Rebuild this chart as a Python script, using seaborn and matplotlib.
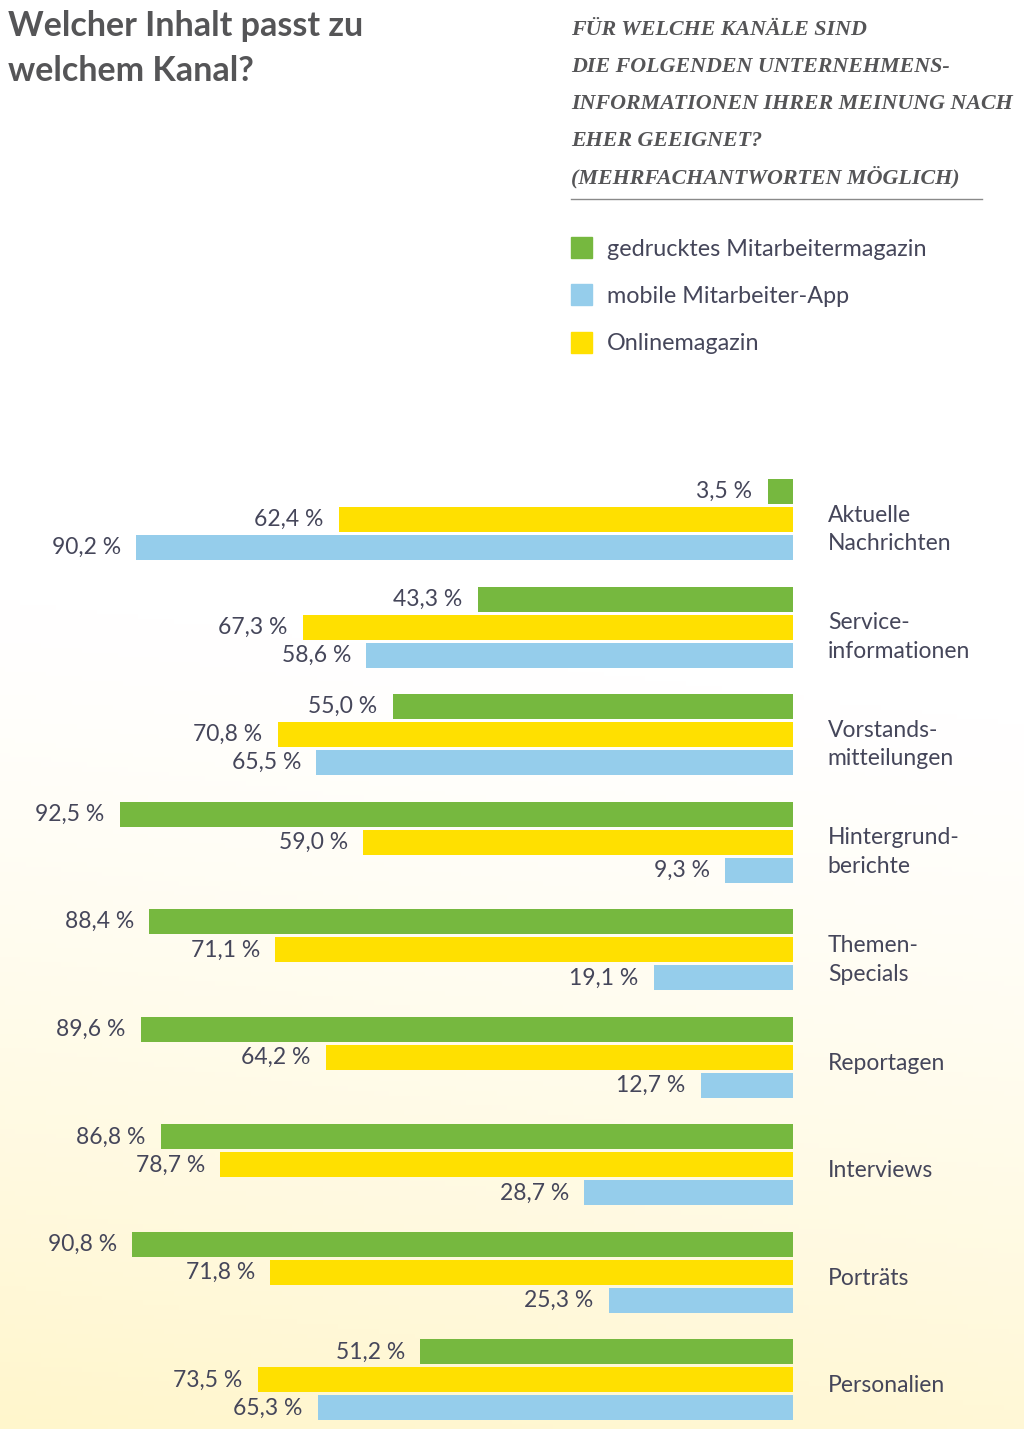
import numpy as np
import pandas as pd
import matplotlib.pyplot as plt
import matplotlib.patches as mpatches
from matplotlib.lines import Line2D
import seaborn as sns


# Values (percent of respondents)
categories = ["Aktuelle\nNachrichten", "Service-\ninformationen", "Vorstands-\nmitteilungen",
              "Hintergrund-\nberichte", "Themen-\nSpecials", "Reportagen",
              "Interviews", "Porträts", "Personalien"]
gedruckt = [3.5, 43.3, 55.0, 92.5, 88.4, 89.6, 86.8, 90.8, 51.2]
online = [62.4, 67.3, 70.8, 59.0, 71.1, 64.2, 78.7, 71.8, 73.5]
app = [90.2, 58.6, 65.5, 9.3, 19.1, 12.7, 28.7, 25.3, 65.3]

channels = ["gedrucktes Mitarbeitermagazin", "Onlinemagazin", "mobile Mitarbeiter-App"]
legend_order = ["gedrucktes Mitarbeitermagazin", "mobile Mitarbeiter-App", "Onlinemagazin"]
colors = {"gedrucktes Mitarbeitermagazin": "#76b83f",
          "Onlinemagazin": "#ffe000",
          "mobile Mitarbeiter-App": "#95cdeb"}

title_lines = ["Welcher Inhalt passt zu", "welchem Kanal?"]
question_lines = ["FÜR WELCHE KANÄLE SIND", "DIE FOLGENDEN UNTERNEHMENS-",
                  "INFORMATIONEN IHRER MEINUNG NACH", "EHER GEEIGNET?",
                  "(MEHRFACHANTWORTEN MÖGLICH)"]

text_col = "#45465a"
grey = "#555557"
W, H = 1024, 1429

df = pd.DataFrame({
    "Kategorie": categories * 3,
    "Kanal": [channels[0]] * 9 + [channels[1]] * 9 + [channels[2]] * 9,
    "Wert": gedruckt + online + app,
})

fig = plt.figure(figsize=(W / 100, H / 100), dpi=100)

# background gradient: white at top, pale yellow towards the bottom
bg = fig.add_axes([0, 0, 1, 1], zorder=0)
yy, xx = np.mgrid[0:1:300j, 0:1:200j]
t = np.clip((yy - 0.42) / 0.58 - 0.15 * xx, 0, 1) ** 1.3
top = np.array([1.0, 1.0, 1.0])
bottom = np.array([1.0, 0.965, 0.80])
img = top[None, None, :] * (1 - t[..., None]) + bottom[None, None, :] * t[..., None]
bg.imshow(img, aspect="auto", extent=[0, 1, 0, 1], origin="upper")
bg.axis("off")

# main bar axes: 100 % at x=65 px, 0 % at x=793 px
ax = fig.add_axes([65 / W, 0, (793 - 65) / W, (H - 466) / H], zorder=1)
ax.set_facecolor("none")
sns.barplot(data=df, y="Kategorie", x="Wert", hue="Kanal", hue_order=channels,
            palette=colors, orient="h", width=0.782, gap=0.107, saturation=1,
            legend=False, ax=ax)
ax.set_xlim(100, 0)
ax.set_ylim(8 + (H - 1380) / 107.4, -0.5)
ax.set_xticks([])
ax.set_xlabel("")
ax.set_ylabel("")
for s in ax.spines.values():
    s.set_visible(False)

ax.yaxis.tick_right()
ax.tick_params(axis="y", length=0, pad=25, labelsize=16.5, labelcolor=text_col)
for lab in ax.get_yticklabels():
    lab.set_fontfamily("Lato")
    lab.set_linespacing(1.45)
    # nudge the category names slightly down, as in the original
    lab.set_y(lab.get_position()[1])
    lab.set_transform(lab.get_transform() +
                      plt.matplotlib.transforms.ScaledTranslation(0, -4 / 100, fig.dpi_scale_trans))

for cont in ax.containers:
    labels = [f"{v:.1f} %".replace(".", ",") for v in cont.datavalues]
    ax.bar_label(cont, labels=labels, padding=11, fontsize=16.5, color=text_col,
                 family="Lato")

# title
for i, line in enumerate(title_lines):
    fig.text(8 / W, 1 - (36 + 45 * i) / H, line, fontsize=24.5, fontweight="bold",
             color=grey, family="Lato", va="baseline")

# question block
for i, line in enumerate(question_lines):
    fig.text(571 / W, 1 - (35 + 37 * i) / H, line, fontsize=15.8, fontweight="bold",
             fontstyle="italic", color=grey, family="Liberation Serif", va="baseline")
fig.add_artist(Line2D([571 / W, 982 / W], [1 - 199 / H] * 2, color="#8a8a8a", lw=1))

# legend
for i, name in enumerate(legend_order):
    yc = 247 + 47.5 * i
    fig.add_artist(mpatches.Rectangle((571 / W, 1 - (yc + 10.5) / H), 21 / W, 21 / H,
                                      color=colors[name], transform=fig.transFigure))
    fig.text(607 / W, 1 - yc / H, name, fontsize=16.8, color=text_col, family="Lato",
             va="center_baseline")

fig.savefig("out.png", dpi=100)
